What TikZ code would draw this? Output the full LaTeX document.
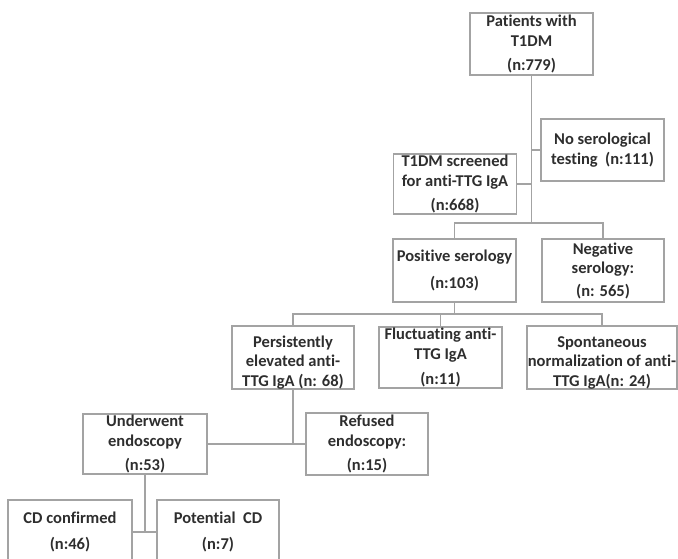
\documentclass[tikz,border=0pt]{standalone}
\usepackage{fontspec}
\setmainfont{Carlito}[Ligatures=CommonOff]
\usepackage{tikz}
\usetikzlibrary{positioning,calc}
\definecolor{boxgray}{HTML}{A3A3A3}
\definecolor{textgray}{HTML}{2E2E2E}
\tikzset{%
  every box/.style={
    draw=boxgray,
    line width=1.5pt,
    text=textgray,
    font=\fontsize{16.5}{19.5}\selectfont\bfseries,
    align=center,
    inner sep=0pt,
    minimum width=123pt,
    minimum height=62pt
  },
  link/.style={
    draw=boxgray,
    line width=1.5pt
  },
}
\newcommand{\lowstrut}{\rule{0pt}{21pt}}

\begin{document}
\begin{tikzpicture}[x=1pt, y=-1pt]
        \useasboundingbox (0,0) rectangle (678,559);
        \clip (0,0) rectangle (678,559);

        % boxes
        \node [every box] (pat) at (531.5,44) {Patients with\\T1DM\\[5pt](n:779)};
        \node [every box] (nos) at (602.5,150) {No serological\\testing\ \ (n:111)};
        \node [every box, minimum height=60pt] (scr) at (455,184) {T1DM screened\\for anti-TTG IgA\\[5pt](n:668)};
        \node [every box, minimum height=63pt] (pos) at (454.5,270.5) {Positive serology\\[7pt](n:103)};
        \node [every box, minimum width=122pt, minimum height=63pt] (neg) at (603,270.5) {Negative\\serology:\\[3pt](n: 565)};
        \node [every box, minimum width=122pt, minimum height=61pt] (per) at (293,357.5) {\lowstrut Persistently\\elevated anti-\\TTG IgA (n: 68)};
        \node [every box, minimum height=61pt] (flu) at (440.5,357.5) {Fluctuating anti-\\TTG IgA\\[6pt](n:11)};
        \node [every box, minimum width=150pt, minimum height=61pt] (spo) at (602,357.5) {\lowstrut Spontaneous\\normalization of anti-\\TTG IgA(n: 24)};
        \node [every box, minimum width=124pt, minimum height=60pt] (und) at (145,444) {Underwent\\endoscopy\\[5pt](n:53)};
        \node [every box, minimum width=122pt] (ref) at (367,444) {Refused\\endoscopy:\\[5pt](n:15)};
        \node [every box, minimum width=124pt, minimum height=64pt] (cdc) at (70,532) {CD confirmed\\[7pt](n:46)};
        \node [every box, minimum width=122pt, minimum height=64pt] (pot) at (218,532) {Potential\ \ CD\\[7pt](n:7)};

        % junctions
        \coordinate (j1) at (531.5,223);
        \coordinate (j2) at (454.5,314);

        % connectors
        \draw [link] (pat.south) -- (j1);
        \draw [link] (scr.east) -- (scr.east -| j1);
        \draw [link] (nos.west) -- (nos.west -| j1);
        \draw [link] (pos.north) |- (j1) -| (neg.north);
        \draw [link] (pos.south) -- (j2);
        \draw [link] (per.north) |- (j2) -| (spo.north);
        \draw [link] (flu.north) -- (flu.north |- j2);
        \draw [link] (per.south) -- (per.south |- und.east);
        \draw [link] (und.east) -- (ref.west);
        \draw [link] (und.south) -- (und.south |- cdc.east);
        \draw [link] (cdc.east) -- (pot.west);
\end{tikzpicture}
\end{document}
